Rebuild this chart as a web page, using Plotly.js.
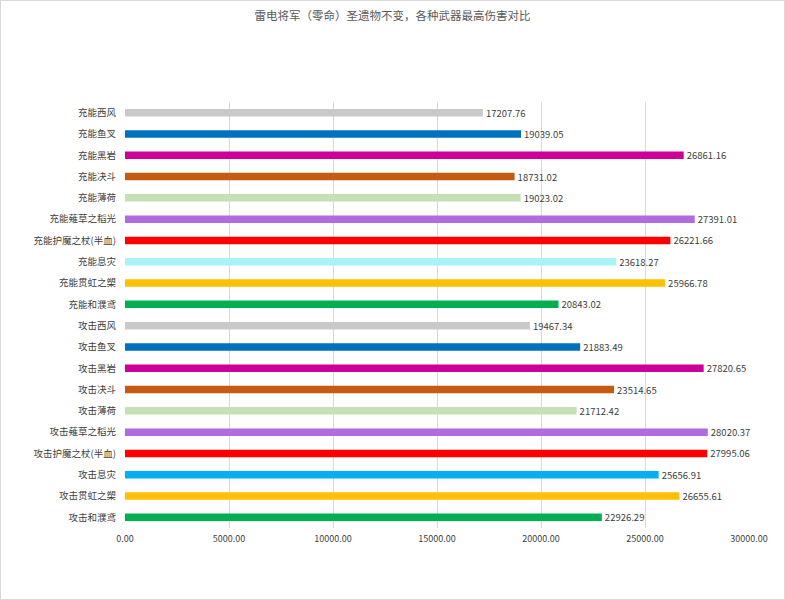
<!DOCTYPE html>
<html>
<head>
<meta charset="utf-8">
<script src="https://cdn.plot.ly/plotly-3.0.1.min.js"></script>
<style>
  html, body { margin: 0; padding: 0; background: #ffffff; }
  #chart { width: 783px; height: 598px; border: 1px solid #d9d9d9; }
</style>
</head>
<body>
<div id="chart"></div>
<script>
const categories = [
  "充能西风", "充能鱼叉", "充能黑岩", "充能决斗", "充能薄荷",
  "充能薙草之稻光", "充能护魔之杖(半血)", "充能息灾", "充能贯虹之槊", "充能和濮鸢",
  "攻击西风", "攻击鱼叉", "攻击黑岩", "攻击决斗", "攻击薄荷",
  "攻击薙草之稻光", "攻击护魔之杖(半血)", "攻击息灾", "攻击贯虹之槊", "攻击和濮鸢"
];
const damage = [
  17207.76, 19039.05, 26861.16, 18731.02, 19023.02,
  27391.01, 26221.66, 23618.27, 25966.78, 20843.02,
  19467.34, 21883.49, 27820.65, 23514.65, 21712.42,
  28020.37, 27995.06, 25656.91, 26655.61, 22926.29
];
const barColors = [
  "#c9c9c9", "#0070c0", "#cc0099", "#c55a11", "#c5e0b4",
  "#b06be0", "#ff0000", "#a6f3f8", "#ffc000", "#00b050",
  "#c9c9c9", "#0070c0", "#cc0099", "#c55a11", "#c5e0b4",
  "#b06be0", "#ff0000", "#00b0f0", "#ffc000", "#00b050"
];
const titleText = "雷电将军（零命）圣遗物不变，各种武器最高伤害对比";

const font = "'Noto Sans CJK SC', 'Noto Sans', sans-serif";

Plotly.newPlot("chart", [{
  type: "bar",
  orientation: "h",
  y: categories,
  x: damage,
  marker: { color: barColors },
  width: 0.35,
  texttemplate: "%{x:.2f}",
  textposition: "outside",
  constraintext: "none",
  cliponaxis: false,
  textfont: { family: font, size: 9.5, color: "#404040" },
  hoverinfo: "x+y"
}], {
  width: 783,
  height: 598,
  paper_bgcolor: "#ffffff",
  plot_bgcolor: "#ffffff",
  margin: { l: 124, r: 35, t: 101, b: 71 },
  title: {
    text: titleText,
    font: { family: font, size: 11.5, color: "#595959" },
    x: 0.5, xanchor: "center",
    y: 0.975, yanchor: "middle"
  },
  showlegend: false,
  xaxis: {
    range: [0, 30000],
    dtick: 5000,
    tickformat: ".2f",
    showgrid: true,
    gridcolor: "#d9d9d9",
    gridwidth: 1,
    zeroline: false,
    showline: false,
    ticks: "",
    tickfont: { family: font, size: 9, color: "#404040" },
    ticklabelstandoff: 4
  },
  yaxis: {
    type: "category",
    autorange: "reversed",
    showgrid: false,
    zeroline: false,
    showline: false,
    ticks: "",
    ticklabelstandoff: 8,
    tickfont: { family: font, size: 9.5, color: "#404040" }
  }
}, { displayModeBar: false, staticPlot: true });
</script>
</body>
</html>
